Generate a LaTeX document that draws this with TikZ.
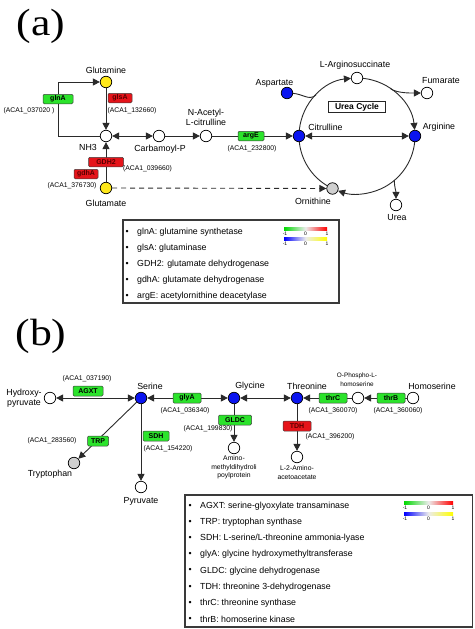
\documentclass[tikz,border=0pt]{standalone}
\usepackage{fontspec}
\setmainfont{Liberation Sans}
\newfontfamily\panelfont{Liberation Serif}
\usetikzlibrary{arrows.meta,backgrounds}
\definecolor{enzgreen}{HTML}{2BE32B}
\definecolor{enzred}{HTML}{E5141A}
\definecolor{metblue}{HTML}{0A14F0}
\definecolor{metyellow}{HTML}{FFE81A}
\definecolor{metgray}{HTML}{D0D0D0}
\definecolor{linegray}{HTML}{2A2A2A}
\definecolor{boxgray}{HTML}{3A3A3A}
\begin{document}
\begin{tikzpicture}[x=1pt,y=-1pt,
  met/.style={circle,draw=black,line width=0.7pt,minimum size=11.5pt,inner sep=0pt,fill=white},
  mblue/.style={met,fill=metblue},
  myel/.style={met,fill=metyellow},
  mgray/.style={met,fill=metgray},
  enz/.style={draw=black!75,rounded corners=1.2pt,line width=0.5pt,minimum height=9.5pt,inner sep=0pt,font=\fontsize{7}{8}\selectfont\bfseries},
  genz/.style={enz,fill=enzgreen,text=black},
  renz/.style={enz,fill=enzred,text=red!35!black},
  lab/.style={font=\fontsize{8.8}{10}\selectfont,inner sep=0pt,align=center},
  aca/.style={font=\fontsize{6.8}{8}\selectfont,inner sep=0pt},
  tiny/.style={font=\fontsize{6.8}{8.6}\selectfont,inner sep=0pt,align=center},
  leg/.style={font=\fontsize{8.8}{10}\selectfont,inner sep=0pt,anchor=west},
  barlab/.style={font=\fontsize{5}{5}\selectfont,inner sep=0pt},
  conn/.style={draw=linegray,line width=0.9pt},
  arr/.style={conn,-{Triangle[length=7pt,width=7pt]}},
  darr/.style={conn,{Triangle[length=7pt,width=7pt]}-{Triangle[length=7pt,width=7pt]}},
  panel/.style={font=\panelfont\fontsize{38}{40}\selectfont,inner sep=0pt}
]
\useasboundingbox (0,0) rectangle (474,629);

% ---------------- panel (a) ----------------
\node[panel] (pa) at (41,26) {\scalebox{1.15}[1]{(a)}};

\node[myel] (gln) at (106,82) {};
\node[met] (nh3) at (106,136) {};
\node[myel] (glu) at (106,188) {};
\node[met] (cbp) at (159,136) {};
\node[met] (nac) at (206,136) {};
\coordinate (cen) at (357,136);
\node[mblue] (cit) at (299,136) {};
\node[mblue] (arg) at (415,136) {};
\node[met] (asuc) at (357,78) {};
\node[mblue] (asp) at (287,93) {};
\node[met] (fum) at (427,93) {};
\node[mgray] (orn) at (332.5,188.5) {};
\node[met] (urea) at (396,205) {};
\coordinate (jasp) at (316,95);
\coordinate (jfum) at (390.3,88.5);
\coordinate (jurea) at (394.3,180.4);

\node[genz,minimum width=30pt] (glnA) at (58,99) {glnA};
\node[renz,minimum width=24pt] (glsA) at (120,98) {glsA};
\node[renz,minimum width=35pt] (gdh2) at (106,162) {GDH2};
\node[renz,minimum width=24pt] (gdhA) at (86,174) {gdhA};
\node[genz,minimum width=26pt] (argE) at (251,136) {argE};

\node[lab] (lgln) at (106,70) {Glutamine};
\node[lab] (lnh3) at (88,147) {NH3};
\node[lab] (lglu) at (106,203) {Glutamate};
\node[lab] (lcbp) at (160,149) {Carbamoyl-P};
\node[lab] (lnac) at (206,117) {N-Acetyl-\\L-citrulline};
\node[lab] (lcit) at (325.5,127) {Citrulline};
\node[lab] (larg) at (439,127) {Arginine};
\node[lab] (lasuc) at (355,65) {L-Arginosuccinate};
\node[lab] (lasp) at (274.5,83) {Aspartate};
\node[lab] (lfum) at (441,81) {Fumarate};
\node[lab] (lorn) at (313,201) {Ornithine};
\node[lab] (lurea) at (397,218) {Urea};
\node[draw=black!85,line width=0.8pt,minimum width=57pt,minimum height=11.5pt,inner sep=0pt,
      font=\fontsize{8.5}{10}\selectfont\bfseries] (uc) at (357,107) {Urea Cycle};

\node[aca] (a1) at (29,111) {(ACA1\_037020 )};
\node[aca] (a2) at (132,111) {(ACA1\_132660)};
\node[aca] (a3) at (147.5,169) {(ACA1\_039660)};
\node[aca] (a4) at (72,186) {(ACA1\_376730)};
\node[aca] (a5) at (252,149) {(ACA1\_232800)};

\begin{pgfonlayer}{background}
\draw[arr] (nh3) -| (glnA) |- (gln);
\draw[arr] (gln) -- (nh3);
\draw[arr] (glu) -- (nh3);
\draw[darr] (nh3) -- (cbp);
\draw[arr] (cbp) -- (nac);
\draw[arr] (nac) -- (cit);
\draw[darr] (cit) -- (arg);
\draw[arr,dash pattern=on 5pt off 4pt] (glu) -- (orn);
% urea cycle
\draw[arr] ([shift={(186:58)}]cen) arc[start angle=186,end angle=264,radius=58];
\draw[arr] ([shift={(276:58)}]cen) arc[start angle=276,end angle=354,radius=58];
\draw[arr] ([shift={(6:58)}]cen) arc[start angle=6,end angle=109,radius=58];
\draw[conn] ([shift={(121:58)}]cen) arc[start angle=121,end angle=174,radius=58];
\draw[conn] (asp) .. controls (303,94) and (309,101) .. (jasp);
\draw[arr] (jfum) .. controls (397,93.5) and (412,93) .. (fum);
\draw[arr] (jurea) .. controls (394.5,188) and (396,191) .. (urea);
\end{pgfonlayer}

% legend (a)
\draw[draw=boxgray,line width=1.2pt] (123,220) rectangle (339,303);
\foreach \y/\t in {232/{glnA: glutamine synthetase},248/{glsA: glutaminase},264/{GDH2: glutamate dehydrogenase},280/{gdhA: glutamate dehydrogenase},296/{argE: acetylornithine deacetylase}}{
  \node[leg] at (125.5,\y) {•};
  \node[leg] at (137,\y) {\t};
}
\shade[left color=green!85!black,right color=red,middle color=white!85!gray] (284,227.5) rectangle (327,230.5);
\shade[left color=blue,right color=yellow,middle color=white!85!gray] (284,237.5) rectangle (327,240.5);
\foreach \yy in {233.5,243.5}{
  \node[barlab] at (285,\yy) {-1};
  \node[barlab] at (305.5,\yy) {0};
  \node[barlab] at (327,\yy) {1};
}

% ---------------- panel (b) ----------------
\node[panel] (pb) at (41,336) {\scalebox{1.15}[1]{(b)}};

\node[met] (hpy) at (50,398) {};
\node[mblue] (ser) at (141,398) {};
\node[mblue] (gly) at (234,398) {};
\node[mblue] (thr) at (297,398) {};
\node[met] (oph) at (358,398) {};
\node[met] (hse) at (413,398) {};
\node[mgray] (trp) at (74,463) {};
\node[met] (pyr) at (141,487) {};
\node[met] (amp) at (234,448) {};
\node[met] (aac) at (297,457) {};

\node[genz,minimum width=30pt,minimum height=10pt] (agxt) at (88,391) {AGXT};
\node[genz,minimum width=28pt,minimum height=10pt] (glya) at (187,398) {glyA};
\node[genz,minimum width=21pt,minimum height=10pt] (trpE) at (98,441) {TRP};
\node[genz,minimum width=26pt,minimum height=10pt] (sdh) at (156,436) {SDH};
\node[genz,minimum width=33pt,minimum height=10pt] (gldc) at (235,420) {GLDC};
\node[renz,minimum width=28pt,minimum height=10pt] (tdh) at (297,426) {TDH};
\node[genz,minimum width=28pt,minimum height=10pt] (thrc) at (333,398) {thrC};
\node[genz,minimum width=28pt,minimum height=10pt] (thrb) at (391,398) {thrB};

\node[lab] (lhpy) at (24,398) {Hydroxy-\\pyruvate};
\node[lab] (lser) at (150,386) {Serine};
\node[lab] (lgly) at (250,386) {Glycine};
\node[lab] (lthr) at (307,386) {Threonine};
\node[lab] (lhse) at (432,386) {Homoserine};
\node[lab] (ltrp) at (50,474) {Tryptophan};
\node[lab] (lpyr) at (141,501) {Pyruvate};
\node[tiny] (lamp) at (234,467.5) {Amino-\\methyldihydroli\\poylprotein};
\node[tiny] (laac) at (297,472.5) {L-2-Amino-\\acetoacetate};
\node[tiny,font=\fontsize{6.4}{8.6}\selectfont] (loph) at (357,379.5) {O-Phospho-L-\\homoserine};

\node[aca] (b1) at (87,379) {(ACA1\_037190)};
\node[aca] (b2) at (185,411) {(ACA1\_036340)};
\node[aca] (b3) at (52,441) {(ACA1\_283560)};
\node[aca] (b4) at (168,449) {(ACA1\_154220)};
\node[aca] (b5) at (208,429) {(ACA1\_199830)};
\node[aca] (b6) at (330,437) {(ACA1\_396200)};
\node[aca] (b7) at (333,411) {(ACA1\_360070)};
\node[aca] (b8) at (398,411) {(ACA1\_360060)};

\begin{pgfonlayer}{background}
\draw[darr] (ser) -- (hpy);
\draw[darr] (ser) -- (gly);
\draw[darr] (gly) -- (thr);
\draw[arr] (ser) -- (trp);
\draw[arr] (ser) -- (pyr);
\draw[arr] (gly) -- (amp);
\draw[arr] (thr) -- (aac);
\draw[arr] (oph) -- (thr);
\draw[arr] (hse) -- (oph);
\end{pgfonlayer}

% legend (b)
\draw[draw=boxgray,line width=1.2pt] (185,495) rectangle (472.8,627);
\foreach \y/\t in {506/{AGXT: serine-glyoxylate transaminase},522.2/{TRP: tryptophan synthase},538.4/{SDH: L-serine/L-threonine ammonia-lyase},554.6/{glyA: glycine hydroxymethyltransferase},570.8/{GLDC: glycine dehydrogenase},587/{TDH: threonine 3-dehydrogenase},603.2/{thrC: threonine synthase},619.4/{thrB: homoserine kinase}}{
  \node[leg] at (188.5,\y) {•};
  \node[leg] at (200,\y) {\t};
}
\shade[left color=green!85!black,right color=red,middle color=white!85!gray] (404,501.5) rectangle (453,504.5);
\shade[left color=blue,right color=yellow,middle color=white!85!gray] (404,512.5) rectangle (453,515.5);
\foreach \yy in {507.5,518.5}{
  \node[barlab] at (405,\yy) {-1};
  \node[barlab] at (428.5,\yy) {0};
  \node[barlab] at (453,\yy) {1};
}
\end{tikzpicture}
\end{document}
